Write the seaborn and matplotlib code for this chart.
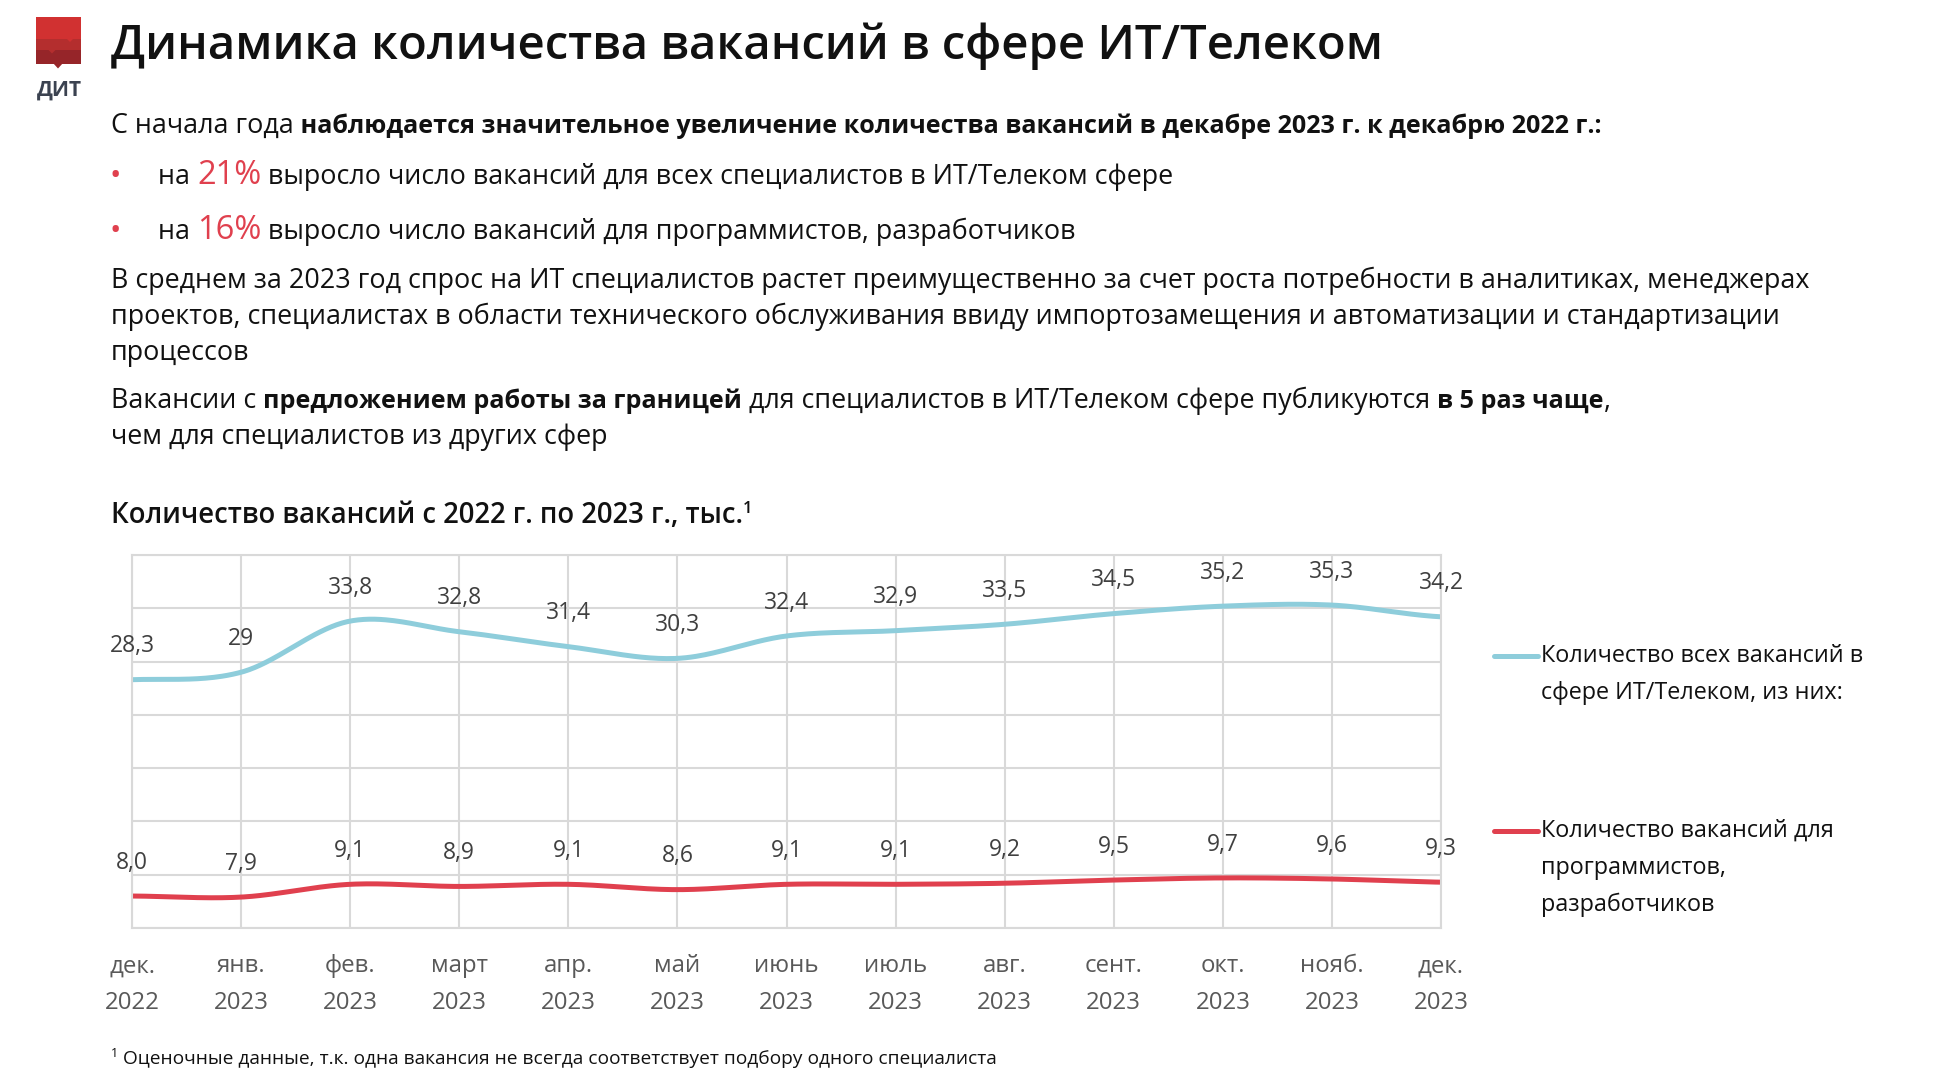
import numpy as np
import pandas as pd
import seaborn as sns
import matplotlib.pyplot as plt
from matplotlib.lines import Line2D
from matplotlib.patches import Polygon

# данные графика
months = ["дек.", "янв.", "фев.", "март", "апр.", "май", "июнь",
          "июль", "авг.", "сент.", "окт.", "нояб.", "дек."]
years = ["2022"] + ["2023"] * 12
all_it = [28.3, 29.0, 33.8, 32.8, 31.4, 30.3, 32.4, 32.9, 33.5, 34.5, 35.2, 35.3, 34.2]
all_it_labels = ["28,3", "29", "33,8", "32,8", "31,4", "30,3", "32,4",
                 "32,9", "33,5", "34,5", "35,2", "35,3", "34,2"]
devs = [8.0, 7.9, 9.1, 8.9, 9.1, 8.6, 9.1, 9.1, 9.2, 9.5, 9.7, 9.6, 9.3]
dev_labels = ["8,0", "7,9", "9,1", "8,9", "9,1", "8,6", "9,1",
              "9,1", "9,2", "9,5", "9,7", "9,6", "9,3"]
series_names = ["Количество всех вакансий в\nсфере ИТ/Телеком, из них:",
                "Количество вакансий для\nпрограммистов,\nразработчиков"]

BLUE = "#8ecddb"
RED = "#e0404e"
GRID = "#d9d9d9"
W, H = 1936, 1086

sns.set_theme(style="white")
plt.rcParams["font.family"] = ["Open Sans", "DejaVu Sans"]


# сглаживание как в Excel (Catmull-Rom)
def smooth(values, n=40):
    p = np.asarray(values, dtype=float)
    p = np.concatenate([[p[0]], p, [p[-1]]])
    xs, ys = [], []
    t = np.linspace(0, 1, n, endpoint=False)
    for i in range(len(values) - 1):
        p0, p1, p2, p3 = p[i], p[i + 1], p[i + 2], p[i + 3]
        y = 0.5 * ((2 * p1) + (-p0 + p2) * t + (2 * p0 - 5 * p1 + 4 * p2 - p3) * t ** 2
                   + (-p0 + 3 * p1 - 3 * p2 + p3) * t ** 3)
        xs.extend(i + t)
        ys.extend(y)
    xs.append(len(values) - 1)
    ys.append(values[-1])
    return xs, ys


frames = []
for name, vals in zip(series_names, [all_it, devs]):
    xs, ys = smooth(vals)
    frames.append(pd.DataFrame({"x": xs, "y": ys, "series": name}))
df = pd.concat(frames, ignore_index=True)

fig = plt.figure(figsize=(W / 100, H / 100), dpi=100)
renderer = fig.canvas.get_renderer()


def px(x, y):
    return x / W, 1 - y / H


def put_runs(x, y, runs):
    # текст из нескольких кусков разного стиля на одной базовой линии
    for text, kw in runs:
        kw = dict(kw)
        dy = kw.pop("dy", 0)
        t = fig.text(*px(x, y - dy), text, va="baseline", ha="left", **kw)
        x = t.get_window_extent(renderer).x1
    return x


def poly(points, color):
    fig.add_artist(Polygon([px(*p) for p in points], closed=True, color=color,
                           linewidth=0, transform=fig.transFigure))


# логотип
poly([(36, 17), (81, 17), (81, 38.5), (36, 38.5)], "#d13131")
poly([(36, 38.5), (81, 38.5), (81, 50), (36, 50)], "#b42e2e")
poly([(66, 38), (74, 38), (70, 42)], "#d13131")
poly([(36, 50), (81, 50), (81, 63.5), (36, 63.5)], "#962529")
poly([(48, 49.5), (56, 49.5), (52, 53.5)], "#b42e2e")
poly([(53, 63), (63, 63), (58, 68.5)], "#962529")
fig.text(*px(59, 90), "ДИТ", ha="center", va="center", fontsize=15,
         fontweight="bold", color="#3b4250")

# заголовок
fig.text(*px(111, 46), "Динамика количества вакансий в сфере ИТ/Телеком",
         ha="left", va="center", fontsize=34, fontweight="semibold", color="#111111")

TXT = dict(fontsize=19.4, color="#111111")
BOLD = dict(fontsize=18.1, color="#111111", fontweight="bold")
put_runs(111, 133, [("С начала года", TXT),
                    (" наблюдается значительное увеличение количества вакансий в декабре 2023 г. к декабрю 2022 г.:", BOLD)])

fig.text(*px(110, 185), "•", fontsize=22, color=RED, va="baseline")
put_runs(158, 184, [("на ", TXT), ("21%", dict(fontsize=23.5, color=RED)),
                    (" выросло число вакансий для всех специалистов в ИТ/Телеком сфере", TXT)])
fig.text(*px(110, 240), "•", fontsize=22, color=RED, va="baseline")
put_runs(158, 239, [("на ", TXT), ("16%", dict(fontsize=23.5, color=RED)),
                    (" выросло число вакансий для программистов, разработчиков", TXT)])

para = ["В среднем за 2023 год спрос на ИТ специалистов растет преимущественно за счет роста потребности в аналитиках, менеджерах",
        "проектов, специалистах в области технического обслуживания ввиду импортозамещения и автоматизации и стандартизации",
        "процессов"]
for i, line in enumerate(para):
    put_runs(111, 288 + i * 36, [(line, TXT)])

put_runs(111, 408, [("Вакансии с ", TXT), ("предложением работы за границей", BOLD),
                    (" для специалистов в ИТ/Телеком сфере публикуются ", TXT),
                    ("в 5 раз чаще", BOLD), (",", TXT)])
put_runs(111, 444, [("чем для специалистов из других сфер", TXT)])

put_runs(111, 523, [("Количество вакансий с 2022 г. по 2023 г., тыс.",
                     dict(fontsize=19.8, fontweight="semibold", color="#111111")),
                    ("1", dict(fontsize=12, fontweight="semibold", color="#111111", dy=10))])

# график
ax = fig.add_axes([132 / W, 1 - 928 / H, (1441 - 132) / W, (928 - 555) / H])
sns.lineplot(data=df, x="x", y="y", hue="series", palette=[BLUE, RED],
             sort=False, legend=False, linewidth=3.6, ax=ax)

for i, (v, lab) in enumerate(zip(all_it, all_it_labels)):
    ax.annotate(lab, (i, v), xytext=(0, 24), textcoords="offset points",
                ha="center", va="center", fontsize=16.5, color="#404040")
for i, (v, lab) in enumerate(zip(devs, dev_labels)):
    ax.annotate(lab, (i, v), xytext=(0, 24), textcoords="offset points",
                ha="center", va="center", fontsize=16.5, color="#404040")

ax.set_xlim(0, 12)
ax.set_ylim(5, 40)
ax.set_xticks(range(len(months)))
ax.set_xticklabels([f"{m}\n{y}" for m, y in zip(months, years)],
                   fontsize=17.3, color="#595959", linespacing=1.7)
ax.set_yticks(np.arange(5, 41, 5))
ax.set_yticklabels([])
ax.tick_params(axis="both", length=0)
ax.tick_params(axis="x", pad=19)
ax.grid(True, color=GRID, linewidth=1.5)
for s in ax.spines.values():
    s.set_color(GRID)
    s.set_linewidth(1.5)
ax.set_xlabel("")
ax.set_ylabel("")

# легенда
for color, y0, name in [(BLUE, 656, series_names[0]), (RED, 831, series_names[1])]:
    fig.add_artist(Line2D([1494 / W, 1538 / W], [1 - y0 / H, 1 - y0 / H], color=color,
                          linewidth=3.6, transform=fig.transFigure))
    for j, line in enumerate(name.split("\n")):
        fig.text(*px(1541, y0 + j * 37), line, ha="left", va="center",
                 fontsize=16.8, color="#111111")

# сноска
put_runs(111, 1064, [("1", dict(fontsize=9, color="#111111", dy=7)),
                     (" Оценочные данные, т.к. одна вакансия не всегда соответствует подбору одного специалиста",
                      dict(fontsize=13.8, color="#111111"))])

fig.savefig("out.png", dpi=100)
